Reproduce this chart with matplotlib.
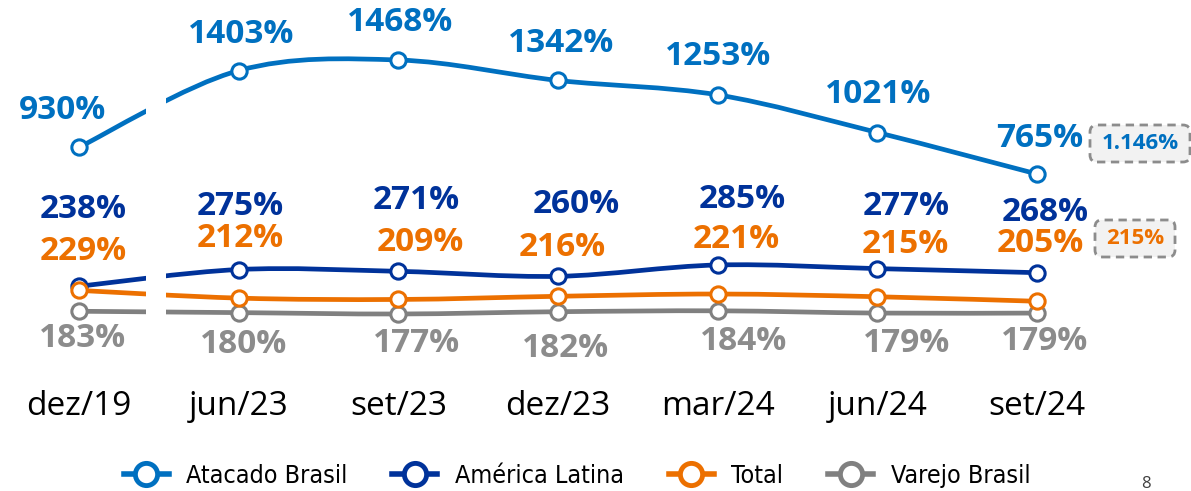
import matplotlib
matplotlib.use("Agg")
import matplotlib.pyplot as plt
from matplotlib import font_manager
from matplotlib.lines import Line2D
from matplotlib.patches import FancyBboxPatch, PathPatch
from matplotlib.path import Path
from matplotlib.transforms import IdentityTransform


PERIODS = ["dez/19", "jun/23", "set/23", "dez/23", "mar/24", "jun/24", "set/24"]

ATACADO = [930, 1403, 1468, 1342, 1253, 1021, 765]
AMERICA = [238, 275, 271, 260, 285, 277, 268]
TOTAL = [229, 212, 209, 216, 221, 215, 205]
VAREJO = [183, 180, 177, 182, 184, 179, 179]

NAMES = ["Atacado Brasil", "América Latina", "Total", "Varejo Brasil"]

BOX_ATACADO = "1.146%"
BOX_TOTAL = "215%"

C_ATACADO = "#0070C0"
C_AMERICA = "#00329A"
C_TOTAL = "#EC7000"
C_VAREJO = "#808080"

# label offsets in pixels (dx, dy with y pointing down), tuned by eye
OFF_ATACADO = [(-17, -37), (2, -36), (2, -38), (3, -37), (0, -38), (1, -38), (3, -36)]
OFF_AMERICA = [(4, -77), (2, -63), (18, -71), (18, -72), (25, -65), (29, -62), (8, -60)]
OFF_TOTAL = [(4, -39), (2, -60), (22, -57), (4, -49), (19, -55), (28, -52), (3, -58)]
OFF_VAREJO = [(3, 27), (5, 32), (18, 30), (7, 37), (26, 31), (29, 30), (8, 28)]

LABEL_FONT = "Open Sans"

# legend uses a narrow face in the original; pick one if it is installed
names = {f.name for f in font_manager.fontManager.ttflist}
condensed = [f for f in font_manager.fontManager.ttflist
             if f.name == "DejaVu Sans" and f.stretch in ("condensed", "semi-condensed")]
if "Liberation Sans Narrow" in names:
    legend_prop = {"family": "Liberation Sans Narrow", "size": 21}
elif condensed:
    legend_prop = {"family": "DejaVu Sans", "stretch": "condensed", "size": 18}
else:
    legend_prop = {"family": "Roboto", "size": 18}


def smooth_path(xs, ys, k=1 / 6):
    verts = [(xs[0], ys[0])]
    codes = [Path.MOVETO]
    n = len(xs)
    for i in range(n - 1):
        i0 = max(i - 1, 0)
        i3 = min(i + 2, n - 1)
        c1 = (xs[i] + (xs[i + 1] - xs[i0]) * k, ys[i] + (ys[i + 1] - ys[i0]) * k)
        c2 = (xs[i + 1] - (xs[i3] - xs[i]) * k, ys[i + 1] - (ys[i3] - ys[i]) * k)
        verts += [c1, c2, (xs[i + 1], ys[i + 1])]
        codes += [Path.CURVE4] * 3
    return Path(verts, codes)


def draw_series(ax, values, color, offsets, z, label_color=None):
    xs = list(range(len(values)))
    ax.add_patch(PathPatch(smooth_path(xs, values), fill=False, ec=color,
                           lw=3.4, zorder=z, capstyle="butt"))
    ax.plot(xs, values, "o", ls="none", ms=11, mfc="white", mec=color,
            mew=2.2, zorder=z + 0.5)
    for x, v, (dx, dy) in zip(xs, values, offsets):
        ax.annotate(f"{v}%", (x, v), xytext=(dx, -dy), textcoords="offset pixels",
                    ha="center", va="center", fontsize=24, fontweight="bold",
                    family=LABEL_FONT, color=label_color or color, zorder=20)


fig = plt.figure(figsize=(11.91, 4.91), dpi=100)
ax = fig.add_axes([0, 1 - 380 / 491, 1, 380 / 491])
ax2 = ax.twinx()

ax.set_xlim(-0.495, 6.964)
ax.set_ylim(31.5, 869)
ax2.set_ylim(-505, 1838)

draw_series(ax, VAREJO, C_VAREJO, OFF_VAREJO, 3, label_color="#8C8C8C")
draw_series(ax, AMERICA, C_AMERICA, OFF_AMERICA, 4)
draw_series(ax, TOTAL, C_TOTAL, OFF_TOTAL, 5)
draw_series(ax2, ATACADO, C_ATACADO, OFF_ATACADO, 4)

# white cut between dez/19 and jun/23
ax2.axvspan(0.42, 0.545, color="white", zorder=10, lw=0)

for a in (ax, ax2):
    for s in a.spines.values():
        s.set_visible(False)
    a.set_yticks([])
ax.set_xticks(range(len(PERIODS)), PERIODS)
ax.tick_params(axis="x", length=0, pad=7, labelsize=24)
for t in ax.get_xticklabels():
    t.set_family(LABEL_FONT)
ax2.tick_params(axis="x", length=0)

# dashed summary boxes on the right
for (x0, y0, w, h), txt, col in [((1090, 125, 100, 37), BOX_ATACADO, C_ATACADO),
                                  ((1095, 220, 80, 37), BOX_TOTAL, C_TOTAL)]:
    fig.add_artist(FancyBboxPatch((x0, 491 - y0 - h), w, h,
                                  boxstyle="round,pad=0,rounding_size=7",
                                  transform=IdentityTransform(), fc="#F2F2F2",
                                  ec="#8C8C8C", lw=2, ls=(0, (3, 2))))
    fig.text((x0 + w / 2) / 1191, 1 - (y0 + h / 2) / 491, txt, ha="center",
             va="center", fontsize=16, fontweight="bold", family=LABEL_FONT, color=col)

handles = [Line2D([], [], color=c, lw=4, marker="o", ms=16, mfc="white", mew=3.5)
           for c in (C_ATACADO, C_AMERICA, C_TOTAL, C_VAREJO)]
fig.legend(handles, NAMES, loc="center", bbox_to_anchor=(577 / 1191, 1 - 476 / 491),
           ncol=4, frameon=False, handlelength=1.8, handletextpad=0.7,
           columnspacing=1.8, prop=legend_prop)

fig.text(1146 / 1191, 1 - 488 / 491, "8", ha="center", va="baseline", fontsize=12,
         color="#404040", family=LABEL_FONT)

fig.savefig("out.png", dpi=100)
